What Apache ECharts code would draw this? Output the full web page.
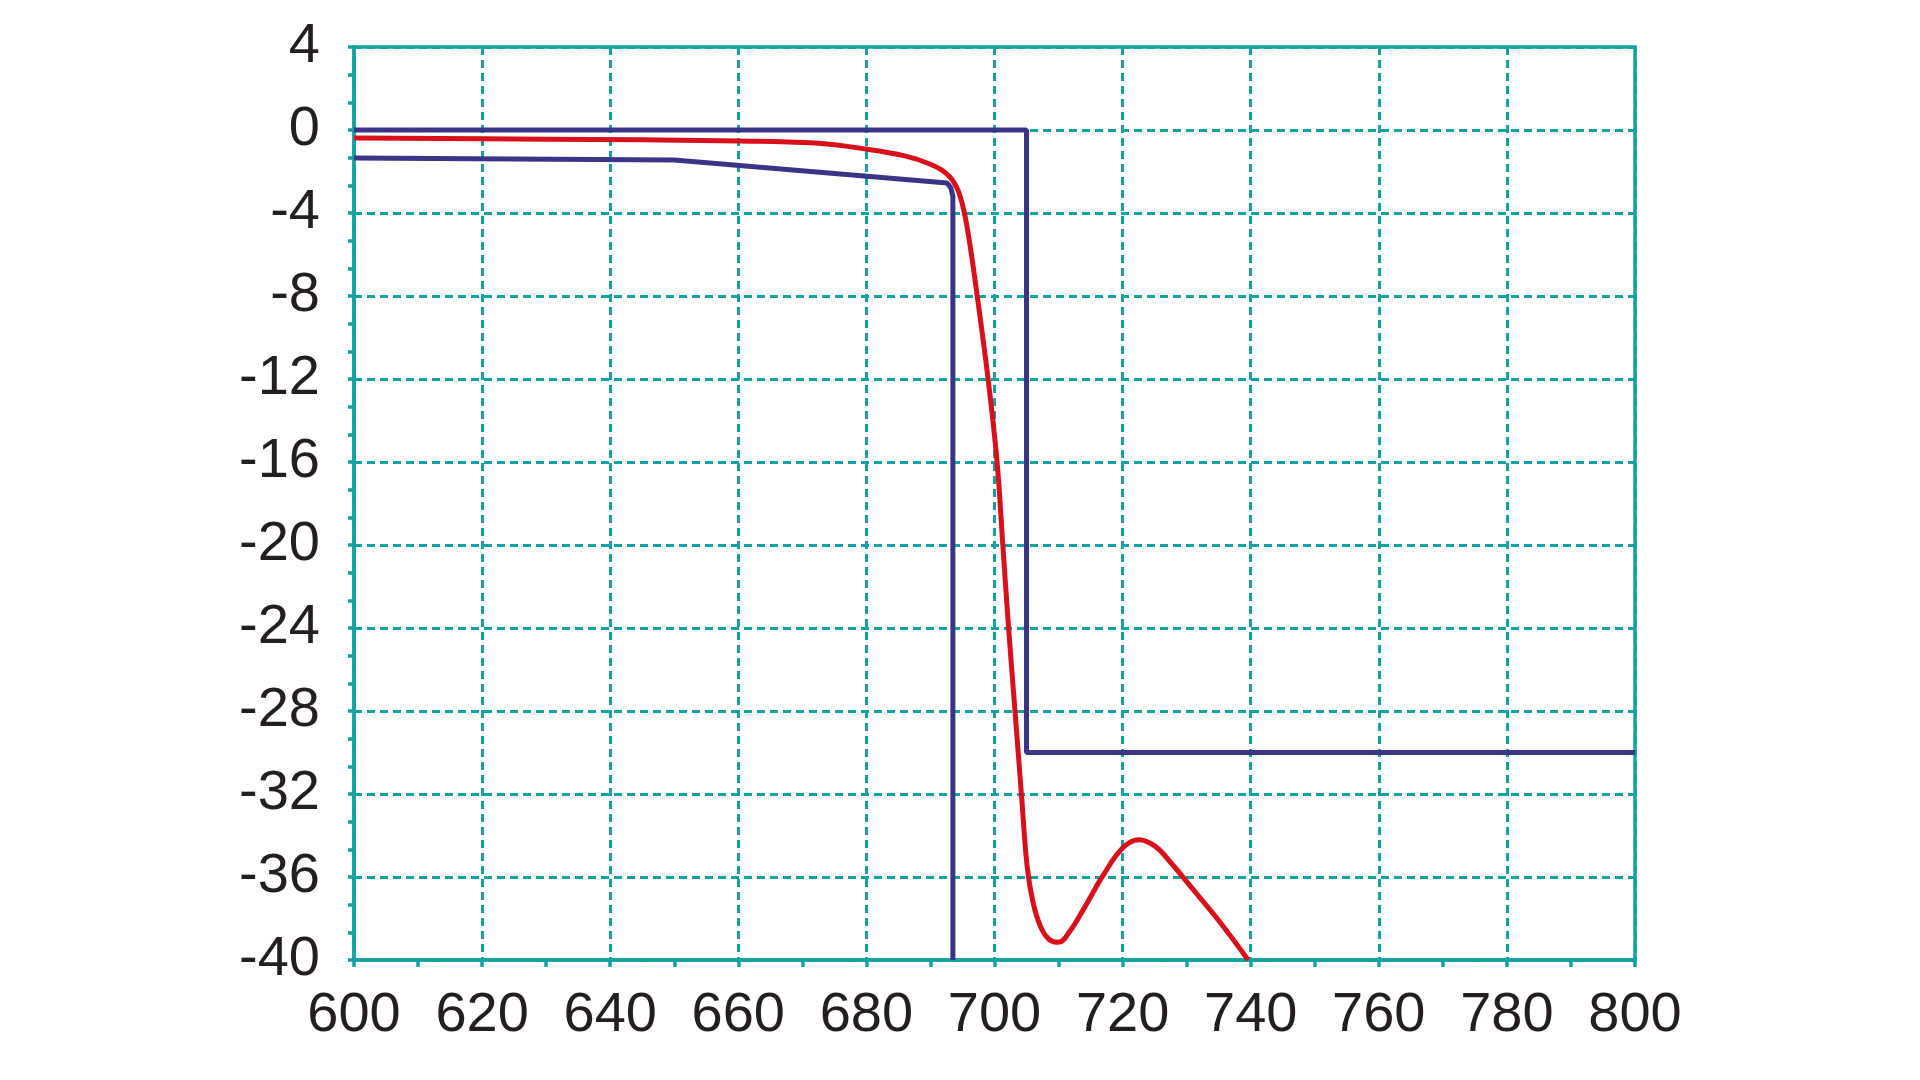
<!DOCTYPE html>
<html lang="en">
<head>
    <meta charset="UTF-8">
    <title>Filter response</title>
    <script src="https://cdn.jsdelivr.net/npm/echarts@6/dist/echarts.min.js"></script>
</head>

<style>
    html, body {
        margin: 0;
        padding: 0;
        background: #fff;
    }
    .chart {
        width: 1920px;
        height: 1080px;
    }
</style>

<body>
<div id="chart" class="chart"></div>

<script>
    // wavelength axis / attenuation axis
    let xTicks = [600, 620, 640, 660, 680, 700, 720, 740, 760, 780, 800]
    let yTicks = [4, 0, -4, -8, -12, -16, -20, -24, -28, -32, -36, -40]

    // upper mask (blue)
    let maskUpper = [[600, 0], [705, 0], [705, -30], [800, -30]]
    // lower mask (blue)
    let maskLower = [[600, -1.35], [650, -1.45], [692.6, -2.55], [693.2, -2.8],
        [693.5, -3.2], [693.5, -40]]
    // measured response (red)
    let response = [[600, -0.38], [630, -0.44], [660, -0.53], [672, -0.63],
        [680, -0.92], [686, -1.25], [690, -1.65], [692.5, -2.1], [694, -2.7], [695, -3.6],
        [696, -5.2], [697.3, -8], [699, -12], [700.4, -16], [701.3, -20], [702.2, -24],
        [703.2, -28], [704.2, -32], [705.1, -35.5], [706, -37.2], [707.2, -38.4],
        [708.5, -39.0], [710, -39.15], [711.8, -38.6], [714, -37.5], [717, -35.9],
        [720, -34.6], [722.5, -34.2], [725, -34.5], [727.5, -35.3], [731, -36.6],
        [735, -38.1], [739.6, -40]]

    let teal = '#12a2a2'
    let blue = '#3b3487'
    let red = '#d7101c'
    let font = '"Liberation Sans", Arial, sans-serif'

    option = {
        animation: false,
        backgroundColor: '#fff',
        grid: {
            left: 354,
            right: 285,
            top: 47,
            bottom: 120,
            show: true,
            borderColor: teal,
            borderWidth: 3.5
        },
        xAxis: {
            type: 'value',
            min: xTicks[0],
            max: xTicks[xTicks.length - 1],
            interval: 20,
            axisLine: {onZero: false, lineStyle: {color: teal, width: 3.5}},
            axisTick: {show: true, length: 7, lineStyle: {color: teal, width: 3.5}},
            minorTick: {show: true, splitNumber: 2, length: 7, lineStyle: {color: teal, width: 3.5}},
            axisLabel: {
                color: '#231f20',
                fontSize: 56,
                fontFamily: font,
                margin: 28
            },
            splitLine: {show: true, lineStyle: {color: teal, width: 3, type: [8, 5]}}
        },
        yAxis: {
            type: 'value',
            min: yTicks[yTicks.length - 1],
            max: yTicks[0],
            interval: 4,
            axisLine: {show: true, onZero: false, lineStyle: {color: teal, width: 3.5}},
            axisTick: {show: true, length: 6, lineStyle: {color: teal, width: 3.5}},
            minorTick: {show: true, splitNumber: 3, length: 6, lineStyle: {color: teal, width: 3.5}},
            axisLabel: {
                color: '#231f20',
                fontSize: 56,
                fontFamily: font,
                margin: 34
            },
            splitLine: {show: true, lineStyle: {color: teal, width: 3, type: [8, 5]}}
        },
        series: [
            {
                name: 'mask upper',
                type: 'line',
                data: maskUpper,
                symbol: 'none',
                lineStyle: {color: blue, width: 5}
            },
            {
                name: 'mask lower',
                type: 'line',
                data: maskLower,
                symbol: 'none',
                lineStyle: {color: blue, width: 5}
            },
            {
                name: 'response',
                type: 'line',
                data: response,
                symbol: 'none',
                smooth: 0.4,
                lineStyle: {color: red, width: 5}
            }
        ]
    };

    let chart = echarts.init(document.getElementById('chart'));
    chart.setOption(option)
</script>
</body>
</html>
